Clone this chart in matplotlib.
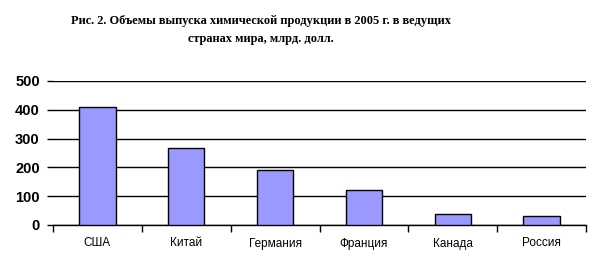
import matplotlib.pyplot as plt
import numpy as np

countries = ['США', 'Китай', 'Германия', 'Франция', 'Канада', 'Россия']
values = [410, 266, 190, 120, 37, 30]
yticks = [0, 100, 200, 300, 400, 500]

fig = plt.figure(figsize=(6.02, 2.68), dpi=100)
ax = fig.add_axes([53/602, 43/268, 533/602, 144/268])

x = np.arange(len(countries))
ax.bar(x, values, width=0.41, color='#9999FF', edgecolor='black', linewidth=1, zorder=3)

ax.set_xlim(-0.5, len(countries) - 0.5)
ax.set_ylim(0, 500)
ax.set_yticks(yticks)
ax.set_yticklabels([str(v) for v in yticks], fontfamily='Liberation Sans',
                   fontsize=10.5, fontweight='bold')
ax.yaxis.grid(True, color='black', linewidth=1, zorder=0)

ax.set_xticks(x)
ax.set_xticklabels(countries, fontfamily='Liberation Sans', fontsize=8.5)
ax.set_xticks(np.arange(len(countries) + 1) - 0.5, minor=True)
ax.tick_params(axis='x', which='major', length=0, pad=9)
ax.tick_params(axis='x', which='minor', length=5, width=1, direction='out')
ax.tick_params(axis='y', length=4, width=1, pad=5.5)

for s in ['left', 'right', 'top']:
    ax.spines[s].set_visible(False)
ax.spines['bottom'].set_linewidth(1)

fig.text(261/602, 1 - 30/268, 'Рис. 2. Объемы выпуска химической продукции в 2005 г. в ведущих\nстранах мира, млрд. долл.',
         ha='center', va='center', fontfamily='Liberation Serif', fontweight='bold',
         fontsize=8.9, linespacing=1.65)

fig.savefig('out.png', dpi=100)
